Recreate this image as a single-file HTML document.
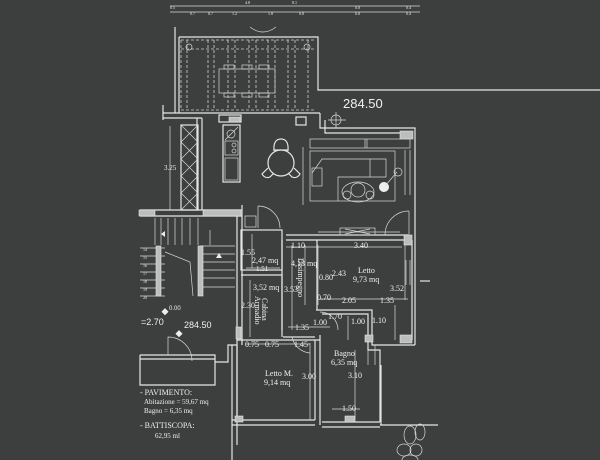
<!DOCTYPE html>
<html><head><meta charset="utf-8"><style>
html,body{margin:0;padding:0;background:#3d3e3e;}
svg{display:block}
.w{stroke:#e6e6e6;fill:none;stroke-width:1.2}
.t{stroke:#d8d8d8;fill:none;stroke-width:0.7}
.d{stroke:#d0d0d0;fill:none;stroke-width:0.8;stroke-dasharray:3,2}
text{fill:#f0f0f0;font-family:"Liberation Serif",serif}
.s{font-family:"Liberation Sans",sans-serif}
.h{fill:#bdbdbd;stroke:#e6e6e6;stroke-width:0.6}
</style></head><body>
<svg width="600" height="460" viewBox="0 0 600 460" xmlns="http://www.w3.org/2000/svg" style="font-size:8px">
<rect width="600" height="460" fill="#3d3e3e"/>
<g class="t">
<line x1="170" y1="6" x2="420" y2="6"/><line x1="170" y1="12" x2="420" y2="12"/>
</g>
<g class="s" style="font-size:4px">
<text x="170" y="9">0.5</text><text x="245" y="4">4.8</text><text x="292" y="4">8.1</text><text x="355" y="9">0.8</text><text x="406" y="9">0.4</text>
<text x="190" y="15">0.7</text><text x="208" y="15">0.7</text><text x="232" y="15">1.2</text><text x="268" y="15">1.8</text><text x="299" y="15">0.8</text><text x="355" y="15">0.8</text><text x="406" y="15">0.4</text>
</g>
<path class="t" d="M250 27 q13 10 26 0"/>
<polyline class="w" points="175,27 175,113"/>
<polyline class="w" points="179,37 318,37 318,90 600,90"/>
<line class="w" x1="179" y1="37" x2="179" y2="113"/>
<g class="d">
<line x1="181" y1="40" x2="316" y2="40"/><line x1="181" y1="49" x2="316" y2="49"/><line x1="181" y1="110" x2="316" y2="110"/>
<line x1="181" y1="40" x2="181" y2="110"/><line x1="187" y1="40" x2="187" y2="110"/>
<line x1="208" y1="40" x2="208" y2="110"/><line x1="214" y1="40" x2="214" y2="110"/>
<line x1="228" y1="40" x2="228" y2="110"/><line x1="235" y1="40" x2="235" y2="110"/>
<line x1="249" y1="40" x2="249" y2="110"/><line x1="256" y1="40" x2="256" y2="110"/>
<line x1="268" y1="40" x2="268" y2="110"/><line x1="275" y1="40" x2="275" y2="110"/>
<line x1="288" y1="40" x2="288" y2="110"/><line x1="295" y1="40" x2="295" y2="110"/>
<line x1="308" y1="40" x2="308" y2="110"/>
</g>
<circle class="t" cx="189" cy="47" r="3"/><circle class="t" cx="307" cy="47" r="3"/>
<rect class="t" x="219" y="69" width="56" height="24"/>
<g class="t"><rect x="224" y="65" width="10" height="4"/><rect x="242" y="65" width="10" height="4"/><rect x="259" y="65" width="10" height="4"/>
<rect x="224" y="93" width="10" height="4"/><rect x="242" y="93" width="10" height="4"/><rect x="259" y="93" width="10" height="4"/></g>
<text x="343" y="108" class="s" style="font-size:13px" fill="#e8e8e8">284.50</text>
<circle class="t" cx="336" cy="120" r="5"/><line class="t" x1="328" y1="120" x2="346" y2="120"/><line class="t" x1="336" y1="112" x2="336" y2="128"/>
<g class="w">
<line x1="163" y1="113" x2="320" y2="113"/><line x1="163" y1="118" x2="202" y2="118"/>
<line x1="163" y1="105" x2="163" y2="120"/>
<polyline points="320,113 320,128 415,128 415,345"/>
<polyline points="325,120 325,133 410,133"/>
<line x1="202" y1="118" x2="202" y2="210"/>
<line x1="197" y1="118" x2="197" y2="210"/>
<rect x="219" y="115" width="22" height="7"/><rect x="296" y="117" width="10" height="8"/>
</g>
<rect class="h" x="400" y="131" width="13" height="8"/>
<rect class="h" x="229" y="117" width="11" height="5"/>
<rect class="w" x="181" y="125" width="17" height="85"/>
<g class="t">
<path d="M181 125 L198 142 M198 125 L181 142 M181 142 L198 159 M198 142 L181 159 M181 159 L198 176 M198 159 L181 176 M181 176 L198 193 M198 176 L181 193 M181 193 L198 210 M198 193 L181 210"/>
<line x1="170" y1="126" x2="170" y2="210"/>
</g>
<text x="164" y="170" style="font-size:7px">3.25</text>
<rect class="w" x="223" y="125" width="17" height="57"/>
<circle class="t" cx="231" cy="134" r="4"/><line class="t" x1="225" y1="140" x2="238" y2="127"/>
<rect class="t" x="225" y="141" width="13" height="14"/><circle class="t" cx="234" cy="145" r="2"/><circle class="t" cx="234" cy="151" r="2"/>
<rect class="t" x="225" y="158" width="13" height="22"/>
<circle class="w" cx="281" cy="163" r="13"/>
<path class="w" d="M274 151 q-1 -12 7 -12 q8 0 7 12" /><line class="w" x1="274" y1="150" x2="288" y2="150"/>
<path class="w" d="M268 168 l-6 6 q3 5 8 3 l4 -4"/><path class="w" d="M294 168 l6 6 q-3 5 -8 3 l-4 -4"/>
<line class="t" x1="303" y1="147" x2="303" y2="205"/>
<rect class="t" x="310" y="139" width="100" height="9"/>
<line class="t" x1="365" y1="139" x2="365" y2="148"/><line class="t" x1="367" y1="139" x2="367" y2="148"/>
<rect class="t" x="310" y="151" width="85" height="50"/>
<polyline class="t" points="312,173 322,159 386,159 386,177 338,177 338,201"/>
<rect class="t" x="312" y="168" width="10" height="18"/>
<line class="t" x1="370" y1="159" x2="370" y2="177"/>
<ellipse class="t" cx="358" cy="192" rx="16" ry="10"/><circle class="t" cx="358" cy="190" r="7"/><circle class="t" cx="347" cy="195" r="4"/><circle class="t" cx="370" cy="195" r="4"/>
<circle cx="384" cy="187" r="5" fill="#eee"/><line class="t" x1="385" y1="186" x2="397" y2="172"/><circle class="t" cx="398" cy="172" r="4"/>
<line class="t" x1="405" y1="150" x2="405" y2="195"/><line class="t" x1="410" y1="150" x2="410" y2="195"/>
<path class="t" d="M385 235 a24 24 0 0 1 24 -24"/><line class="t" x1="409" y1="211" x2="409" y2="235"/>
<g class="w">
<line x1="140" y1="210" x2="242" y2="210"/><line x1="140" y1="216" x2="242" y2="216"/>
<line x1="242" y1="205" x2="242" y2="345"/><line x1="237" y1="216" x2="237" y2="445"/>
</g>
<rect class="h" x="139" y="210" width="16" height="6"/><rect class="h" x="203" y="210" width="38" height="6"/>
<path class="t" d="M258 206 a22 22 0 0 1 22 22"/><line class="t" x1="258" y1="206" x2="258" y2="228"/>
<rect class="t" x="245" y="216" width="11" height="11"/>
<g class="t">
<line x1="155" y1="218" x2="155" y2="245"/><line x1="161" y1="218" x2="161" y2="245"/><line x1="168" y1="218" x2="168" y2="245"/><line x1="175" y1="218" x2="175" y2="245"/><line x1="182" y1="218" x2="182" y2="245"/><line x1="190" y1="218" x2="190" y2="245"/><line x1="198" y1="218" x2="198" y2="245"/>
<line x1="140" y1="248" x2="165" y2="248"/><line x1="140" y1="256" x2="165" y2="256"/><line x1="140" y1="264" x2="165" y2="264"/><line x1="140" y1="272" x2="165" y2="272"/><line x1="140" y1="280" x2="165" y2="280"/><line x1="140" y1="288" x2="165" y2="288"/><line x1="140" y1="296" x2="165" y2="296"/>
<line x1="200" y1="246" x2="235" y2="246"/><line x1="200" y1="254" x2="235" y2="254"/><line x1="200" y1="262" x2="235" y2="262"/><line x1="200" y1="270" x2="235" y2="270"/><line x1="200" y1="278" x2="235" y2="278"/><line x1="200" y1="287" x2="235" y2="287"/>
<polyline points="165,252 190,262 193,296"/><line x1="210" y1="230" x2="210" y2="245"/>
</g>
<g class="s" style="font-size:4px"><text x="143" y="251">14</text><text x="143" y="259">15</text><text x="143" y="267">16</text><text x="143" y="275">17</text><text x="143" y="283">18</text><text x="143" y="291">19</text><text x="143" y="299">20</text></g>
<rect class="h" x="156" y="246" width="5" height="50"/><rect class="h" x="198" y="246" width="5" height="50"/>
<polygon points="161,234 165,231 165,237" fill="#eee"/><polygon points="219,253 216,258 222,258" fill="#eee"/>
<g class="w">
<rect x="241" y="230" width="41" height="40"/>
<polyline points="241,275 282,275 282,337"/>
<line x1="282" y1="240" x2="282" y2="330"/>
<polyline points="286,240 408,240"/><line x1="286" y1="235" x2="408" y2="235"/>
<polyline points="317,240 317,310"/>
<polyline points="316,310 372,310 372,345 415,345"/>
<polyline points="322,314 368,314 368,350 380,350 380,422"/>
<line x1="412" y1="240" x2="412" y2="340"/>
<line x1="283" y1="337" x2="315" y2="337"/><line x1="237" y1="340" x2="320" y2="340"/>
<line x1="237" y1="345" x2="237" y2="420"/><line x1="315" y1="340" x2="315" y2="420"/><line x1="320" y1="335" x2="320" y2="425"/>
<line x1="232" y1="420" x2="315" y2="420"/><line x1="232" y1="425" x2="315" y2="425"/>
<line x1="322" y1="422" x2="380" y2="422"/><line x1="322" y1="427" x2="380" y2="427"/>
<line x1="232" y1="345" x2="232" y2="460"/>
</g>
<rect class="h" x="404" y="235" width="8" height="10"/><rect class="h" x="365" y="335" width="8" height="7"/><rect class="h" x="400" y="335" width="12" height="8"/><rect class="h" x="345" y="416" width="10" height="6"/><rect class="h" x="235" y="416" width="8" height="6"/><rect class="h" x="236" y="327" width="5" height="12"/>
<rect class="t" x="340" y="228" width="35" height="7"/><path class="t" d="M345 229 l25 5 M345 234 l25 -5"/>
<line class="t" x1="318" y1="232" x2="400" y2="232"/>
<path class="t" d="M292 337 a20 20 0 0 0 18 16"/>
<path class="t" d="M320 312 a18 18 0 0 1 18 18"/>
<line class="t" x1="375" y1="345" x2="375" y2="365"/><line class="t" x1="368" y1="350" x2="368" y2="365"/>
<line class="t" x1="410" y1="260" x2="410" y2="285"/><line class="t" x1="406" y1="260" x2="406" y2="285"/>
<g class="t">
<line x1="286" y1="247" x2="402" y2="247"/><line x1="246" y1="268" x2="280" y2="268"/><line x1="252" y1="234" x2="252" y2="268"/>
<line x1="250" y1="280" x2="250" y2="337"/><line x1="292" y1="245" x2="292" y2="330"/><line x1="320" y1="299" x2="408" y2="299"/>
<line x1="288" y1="327" x2="330" y2="327"/><line x1="318" y1="245" x2="318" y2="305"/><line x1="305" y1="245" x2="305" y2="305"/>
<line x1="246" y1="344" x2="310" y2="344"/><line x1="310" y1="343" x2="310" y2="420"/><line x1="332" y1="409" x2="360" y2="409"/>
<line x1="355" y1="350" x2="355" y2="420"/><line x1="395" y1="305" x2="395" y2="340"/><line x1="348" y1="316" x2="348" y2="340"/>
<line x1="405" y1="245" x2="405" y2="300"/>
</g>
<g class="w">
<polyline points="140,355 215,355 215,385 140,385 140,355"/>
<line x1="140" y1="359" x2="215" y2="359"/>
<polyline points="215,362 228,362 228,345 237,345"/>
</g>
<path class="t" d="M168 355 v-18 a24 24 0 0 1 24 24"/>
<line class="w" x1="420" y1="281" x2="430" y2="281"/>
<line class="w" x1="380" y1="425" x2="438" y2="425"/><line class="w" x1="381" y1="365" x2="381" y2="425"/>
<g class="t"><ellipse cx="410" cy="435" rx="6" ry="9"/><ellipse cx="420" cy="432" rx="5" ry="8"/><ellipse cx="404" cy="450" rx="7" ry="6"/><ellipse cx="416" cy="450" rx="6" ry="6"/><ellipse cx="410" cy="460" rx="8" ry="5"/></g>
<text x="241" y="255">1.55</text><text x="252" y="263">2,47 mq</text><text x="256" y="271" style="font-size:7px">1.51</text>
<text x="291" y="248">1.10</text><text x="354" y="248">3.40</text>
<text x="291" y="266">4,13 mq</text>
<text x="319" y="280">0.80</text><text x="332" y="276">2.43</text>
<text x="358" y="273">Letto</text><text x="353" y="282">9,73 mq</text>
<text x="253" y="290">3,52 mq</text><text x="284" y="292">3.53</text>
<text x="390" y="291">3.52</text>
<text x="317" y="300">0.70</text><text x="342" y="303">2.05</text><text x="380" y="303">1.35</text>
<text x="241" y="308">2.30</text>
<text x="328" y="319">1.70</text><text x="313" y="325">1.00</text><text x="351" y="324">1.00</text><text x="372" y="323">1.10</text>
<text x="295" y="330">1.35</text>
<text x="245" y="347">0.75</text><text x="265" y="347">0.75</text><text x="294" y="347">1.45</text>
<text x="334" y="356">Bagno</text><text x="331" y="365">6,35 mq</text>
<text x="265" y="376">Letto M.</text><text x="264" y="385">9,14 mq</text>
<text x="302" y="379">3.00</text><text x="348" y="378">3.10</text><text x="342" y="411">1.50</text>
<text x="0" y="0" transform="translate(262,298) rotate(90)">Cabina</text>
<text x="0" y="0" transform="translate(255,296) rotate(90)">Armadio</text>
<text x="0" y="0" transform="translate(298,258) rotate(90)">Disimpegno</text>
<text x="140" y="395">- PAVIMENTO:</text>
<text x="144" y="404" style="font-size:7px">Abitazione = 59,67 mq</text>
<text x="144" y="413" style="font-size:7px">Bagno = 6,35 mq</text>
<text x="140" y="428">- BATTISCOPA:</text>
<text x="155" y="438" style="font-size:7px">62,95 ml</text>
<text x="169" y="310" class="s" style="font-size:6px">0.00</text><text x="141" y="325" class="s" fill="#ccc" style="font-size:9px">=2.70</text>
<text x="184" y="328" class="s" fill="#ccc" style="font-size:9px">284.50</text>
<rect x="163" y="309" width="5" height="5" fill="#eee" transform="rotate(45 165 311)"/>
<rect x="177" y="331" width="5" height="5" fill="#eee" transform="rotate(45 179 333)"/>
</svg>
</body></html>
